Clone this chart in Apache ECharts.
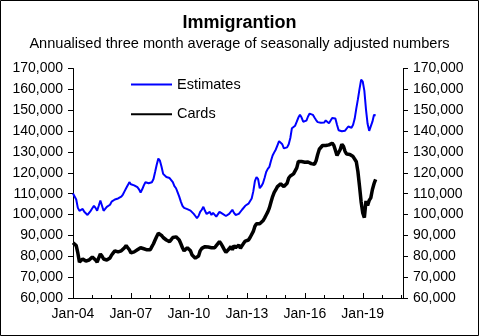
<!DOCTYPE html>
<html>
<head>
<meta charset="utf-8">
<script src="https://cdn.jsdelivr.net/npm/echarts@6/dist/echarts.min.js"></script>
<style>
html,body{margin:0;padding:0;background:#fff;}
#c{width:479px;height:336px;}
</style>
</head>
<body>
<div id="c"></div>
<script>
// Tick labels / categories
const monthNames = ['Jan','Feb','Mar','Apr','May','Jun','Jul','Aug','Sep','Oct','Nov','Dec'];
const startYear = 2004;
const axisMonths = 206; // Jan-04 .. Feb-21
const yTicks = {min: 60000, max: 170000, step: 10000};

// Estimates (monthly from Jan-04)
const estimates = [
110100,109600,107200,103200,101800,101800,102700,101300,100800,99800,
100300,101800,102700,104200,103200,101800,104200,106700,106700,101800,
102700,103700,103200,104700,106200,105700,107200,107700,107700,108200,
108600,109600,111100,112600,114000,115500,114500,113600,114000,114000,
113100,112100,110600,112100,114000,115500,115500,115000,115000,115500,
117000,120400,123900,126800,125800,122900,119500,119500,118000,118000,
117500,116500,115500,113600,112600,110600,108600,106200,104200,103200,
102900,102600,102300,101900,101300,100300,99300,98300,99300,101300,
102300,103700,101800,100300,99800,101300,99800,100800,100800,99000,
99800,101300,101300,100300,99500,99300,99800,100300,100800,102300,
100800,99800,99800,100300,99800,102300,103200,104200,104700,105200,
105700,107700,111100,116000,118000,117000,112600,113600,115000,117500,
120400,121900,122900,125800,128300,129800,131200,133200,135200,135200,
133700,131700,131500,132200,133700,136700,141400,142100,142600,144500,
146500,147800,146500,144500,143700,145000,147000,148400,148100,147800,
146500,145300,144300,143800,144000,143700,144100,145100,145000,143800,
144300,146300,147100,146000,143000,140400,139600,139900,140200,140200,
140600,142200,141400,141600,143000,146000,150900,155300,160200,164700,
163700,159300,150400,143500,140100,140400,144500,147800,147500
];

// Cards (monthly from Jan-04)
const cards = [
86500,86500,85100,81600,77200,77200,78700,78200,77700,77200,
78200,78200,79700,79200,78200,77200,79200,81100,80100,78700,
78200,78200,78200,79200,80600,81600,82600,83100,82100,82100,
82600,83100,84100,85100,84100,83100,81600,81600,82100,82100,
83100,83600,84100,84100,83600,83600,83100,83100,83100,84600,
86000,87800,89500,91000,91000,90000,89000,88300,87800,87300,
87000,88000,89000,89500,89300,88500,87800,86000,84100,82600,
82600,84100,84100,82600,80600,79700,79100,79100,80100,82600,
83800,84600,84600,84400,84400,84100,84100,84100,84100,85100,
86000,87000,86000,84600,83100,81900,82100,83600,84600,83100,
85100,84100,84100,85400,83800,85100,86200,87300,87800,87800,
89000,89500,91900,94400,95600,95800,95600,96200,97000,98300,
99800,101300,103200,106000,108600,110600,111900,113400,114200,114700,
114600,113400,113600,115000,117500,118500,118800,119500,120400,122400,
125400,124900,125400,124900,125100,124900,125200,125100,124400,123900,
124100,125800,128800,131300,132100,133100,133000,133100,133000,133400,
133900,134200,133200,130800,128300,127800,131200,133700,132700,130300,
129000,129300,128800,128400,127800,126900,125300,120500,113500,106000,
100800,98500,106500,104400,106800,108000,112000,114800,116800
];

const categories = [];
for (let i = 0; i < axisMonths; i++) {
  const y = startYear + Math.floor(i / 12);
  categories.push(monthNames[i % 12] + '-' + String(y % 100).padStart(2, '0'));
}

const FONT = 'Liberation Sans, Arial, sans-serif';
const fmt = v => String(v).replace(/\B(?=(\d{3})+(?!\d))/g, ',');

const chart = echarts.init(document.getElementById('c'), null, {renderer: 'canvas'});

const yAxisBase = {
  type: 'value', min: yTicks.min, max: yTicks.max, interval: yTicks.step,
  splitLine: {show: false},
  axisLine: {show: true, lineStyle: {color: '#000', width: 1}},
  axisTick: {show: true, inside: false, length: 5, lineStyle: {color: '#000'}},
  axisLabel: {color: '#000', fontSize: 14, fontFamily: FONT, margin: 10, formatter: fmt}
};

chart.setOption({
  animation: false,
  backgroundColor: '#fff',
  title: [
    {text: 'Immigrantion', left: 'center', top: 9,
     textStyle: {fontSize: 18, fontWeight: 'bold', color: '#000', fontFamily: FONT}},
    {text: 'Annualised three month average of seasonally adjusted numbers', left: 'center', top: 31,
     textStyle: {fontSize: 14.6, fontWeight: 'normal', color: '#000', fontFamily: FONT}}
  ],
  graphic: [{
    type: 'rect', silent: true, z: 100,
    shape: {x: 0.5, y: 0.5, width: 478, height: 335},
    style: {fill: null, stroke: '#000', lineWidth: 1}
  }],
  legend: {
    data: ['Estimates', 'Cards'], orient: 'vertical', left: 130, top: 77, padding: 0,
    itemWidth: 41, itemHeight: 14, itemGap: 14.7,
    itemStyle: {opacity: 0},
    textStyle: {fontSize: 14.5, color: '#000', fontFamily: FONT}
  },
  grid: {left: 73, right: 76, top: 68.5, bottom: 38, containLabel: false},
  xAxis: [
    {
      type: 'category', data: categories, boundaryGap: false,
      axisLine: {show: true, lineStyle: {color: '#000', width: 1}},
      axisTick: {show: true, inside: true, length: 3, interval: i => i % 12 === 0, lineStyle: {color: '#000'}},
      axisLabel: {color: '#000', fontSize: 14, fontFamily: FONT, margin: 9, interval: i => i % 36 === 0},
      splitLine: {show: false}
    },
    {
      type: 'category', data: categories, boundaryGap: false, position: 'bottom',
      axisLine: {show: false},
      axisTick: {show: true, inside: true, length: 5, interval: i => i % 36 === 0, lineStyle: {color: '#000'}},
      axisLabel: {show: false},
      splitLine: {show: false}
    }
  ],
  yAxis: [
    Object.assign({}, yAxisBase, {position: 'left'}),
    Object.assign({}, yAxisBase, {position: 'right'})
  ],
  series: [
    {name: 'Estimates', type: 'line', data: estimates, xAxisIndex: 0, yAxisIndex: 0,
     symbol: 'none', showSymbol: false,
     lineStyle: {color: '#0000ff', width: 2}, itemStyle: {color: '#0000ff'}},
    {name: 'Cards', type: 'line', data: cards, xAxisIndex: 0, yAxisIndex: 0,
     symbol: 'none', showSymbol: false,
     lineStyle: {color: '#000', width: 3.5}, itemStyle: {color: '#000'}}
  ]
});
</script>
</body>
</html>
